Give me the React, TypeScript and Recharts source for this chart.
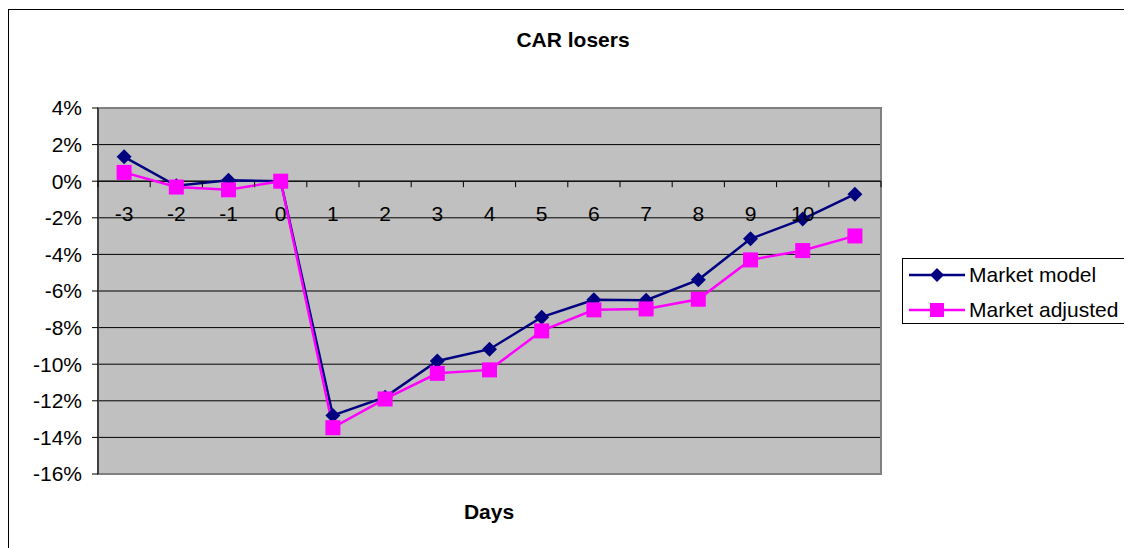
import React from 'react';
import {
  LineChart,
  Line,
  XAxis,
  YAxis,
  CartesianGrid,
  ReferenceArea,
  ReferenceLine,
} from 'recharts';

const days = ['-3', '-2', '-1', '0', '1', '2', '3', '4', '5', '6', '7', '8', '9', '10', ''];
const marketModel = [1.33, -0.25, 0.05, 0, -12.8, -11.8, -9.82, -9.18, -7.43, -6.48, -6.5, -5.39, -3.15, -2.07, -0.71];
const marketAdjusted = [0.48, -0.32, -0.47, 0, -13.47, -11.9, -10.5, -10.31, -8.18, -7.03, -6.98, -6.45, -4.3, -3.79, -2.99];
const yTicks = [4, 2, 0, -2, -4, -6, -8, -10, -12, -14, -16];

const data = days.map((day, i) => ({
  day,
  model: marketModel[i],
  adjusted: marketAdjusted[i],
}));

const FONT = "'Liberation Sans', Arial, sans-serif";
const NAVY = '#000080';
const PINK = '#ff00ff';

const W = 1124;
const H = 540;
const MARGIN = { top: 100, right: 251, bottom: 73, left: 9 };
const Y_AXIS_W = 81;
const PLOT_TOP = MARGIN.top;
const PLOT_H = H - MARGIN.top - MARGIN.bottom - 1;
const PLOT_W = W - MARGIN.left - MARGIN.right - Y_AXIS_W;
const ZERO_Y = PLOT_TOP + PLOT_H * (4 / 20);
const BAND = PLOT_W / days.length;

function Diamond({ cx, cy, size = 7.5, color = NAVY }: any) {
  if (cx == null || cy == null) return null;
  return <polygon points={`${cx},${cy - size} ${cx + size},${cy} ${cx},${cy + size} ${cx - size},${cy}`} fill={color} />;
}

function Square({ cx, cy, size = 7.5, color = PINK }: any) {
  if (cx == null || cy == null) return null;
  return <rect x={cx - size} y={cy - size} width={size * 2} height={size * 2} fill={color} />;
}

// category ticks sit on the 0% line, tick marks between categories
function DayTick({ x, payload, index }: any) {
  const last = index === days.length - 1;
  return (
    <g>
      <line x1={x - BAND / 2} x2={x - BAND / 2} y1={ZERO_Y} y2={ZERO_Y + 6} stroke="#000" />
      {last && <line x1={x + BAND / 2} x2={x + BAND / 2} y1={ZERO_Y} y2={ZERO_Y + 6} stroke="#000" />}
      <text x={x} y={ZERO_Y + 40} textAnchor="middle" fontSize={21} fontFamily={FONT} fill="#000">
        {payload.value}
      </text>
    </g>
  );
}

function LegendBox() {
  const rows = [
    { label: 'Market model', color: NAVY, marker: <Diamond cx={28} cy={10} size={7} /> },
    { label: 'Market adjusted', color: PINK, marker: <Square cx={28} cy={10} size={7} /> },
  ];
  return (
    <div
      style={{
        position: 'absolute',
        left: 894,
        top: 250,
        border: '1px solid #000',
        background: '#fff',
        width: 227,
        height: 64,
        fontFamily: FONT,
        fontSize: 21,
      }}
    >
      {rows.map((r, i) => (
        <div key={r.label} style={{ position: 'absolute', left: 6, top: 5 + i * 35, display: 'flex', alignItems: 'center', height: 21 }}>
          <svg width={56} height={20} style={{ display: 'block' }}>
            <line x1={0} x2={56} y1={10} y2={10} stroke={r.color} strokeWidth={2.5} />
            {r.marker}
          </svg>
          <span style={{ marginLeft: 4, lineHeight: '21px', color: '#000', whiteSpace: 'nowrap' }}>{r.label}</span>
        </div>
      ))}
    </div>
  );
}

export default function App() {
  return (
    <div style={{ position: 'relative', width: W, height: H, fontFamily: FONT }}>
      <div
        style={{
          position: 'absolute',
          left: 0,
          top: 1,
          width: W,
          height: H - 1,
          borderTop: '1px solid #000',
          borderLeft: '1px solid #000',
          boxSizing: 'border-box',
        }}
      />
      <LineChart width={W} height={H} data={data} margin={MARGIN}>
        <CartesianGrid vertical={false} stroke="#000" fill="#c0c0c0" fillOpacity={1} />
        <ReferenceArea y1={-16} y2={4} fill="none" stroke="#808080" strokeWidth={2} ifOverflow="visible" />
        <ReferenceLine y={0} stroke="#000" />
        <XAxis
          dataKey="day"
          scale="band"
          axisLine={false}
          tickLine={false}
          height={1}
          interval={0}
          tick={<DayTick />}
        />
        <YAxis
          type="number"
          domain={[-16, 4]}
          ticks={yTicks}
          interval={0}
          width={Y_AXIS_W}
          allowDataOverflow
          axisLine={{ stroke: '#000' }}
          tickLine={{ stroke: '#000' }}
          tickSize={6}
          tickMargin={10}
          tick={{ fontSize: 21, fontFamily: FONT, fill: '#000' }}
          tickFormatter={(v) => `${v}%`}
        />
        <Line
          dataKey="model"
          name="Market model"
          stroke={NAVY}
          strokeWidth={2.5}
          dot={(p: any) => <Diamond key={`d${p.index}`} cx={p.cx} cy={p.cy} />}
          activeDot={false}
          isAnimationActive={false}
        />
        <Line
          dataKey="adjusted"
          name="Market adjusted"
          stroke={PINK}
          strokeWidth={2.5}
          dot={(p: any) => <Square key={`s${p.index}`} cx={p.cx} cy={p.cy} />}
          activeDot={false}
          isAnimationActive={false}
        />
      </LineChart>
      <LegendBox />
      <div
        style={{
          position: 'absolute',
          left: 265,
          width: 600,
          top: 21,
          textAlign: 'center',
          fontSize: 21,
          lineHeight: '21px',
          fontWeight: 'bold',
        }}
      >
        CAR losers
      </div>
      <div
        style={{
          position: 'absolute',
          left: 181,
          width: 600,
          top: 493,
          textAlign: 'center',
          fontSize: 21,
          lineHeight: '21px',
          fontWeight: 'bold',
        }}
      >
        Days
      </div>
    </div>
  );
}
